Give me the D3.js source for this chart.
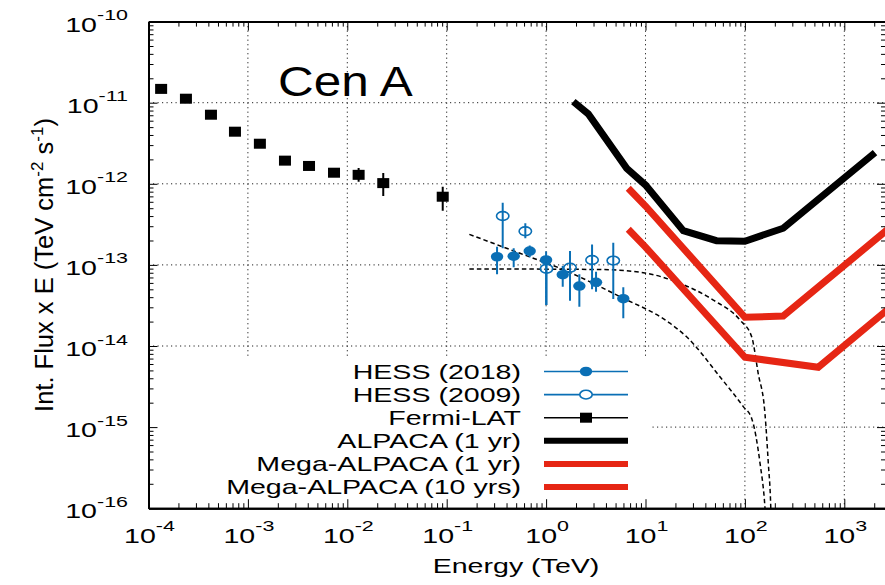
<!DOCTYPE html>
<html>
<head>
<meta charset="utf-8">
<script src="https://cdn.jsdelivr.net/npm/d3@7"></script>
<style>
body { margin: 0; background: #fff; }
text { font-family: "Liberation Sans", Arial, Helvetica, sans-serif; fill: #000; }
</style>
</head>
<body>
<div id="chart"></div>
<script>
// values (energy in TeV, flux in TeV cm^-2 s^-1)
var fermiE  = [1.34e-4, 2.38e-4, 4.25e-4, 7.41e-4, 1.32e-3, 2.36e-3, 4.12e-3, 7.35e-3, 1.30e-2, 2.30e-2, 9.12e-2];
var fermiF  = [1.48e-11, 1.12e-11, 7.11e-12, 4.39e-12, 3.12e-12, 1.93e-12, 1.66e-12, 1.37e-12, 1.29e-12, 1.02e-12, 6.93e-13];
var fermiLo = [1.48e-11, 1.12e-11, 7.11e-12, 4.39e-12, 3.12e-12, 1.93e-12, 1.58e-12, 1.30e-12, 1.06e-12, 7.08e-13, 4.66e-13];
var fermiHi = [1.48e-11, 1.12e-11, 7.11e-12, 4.39e-12, 3.12e-12, 1.93e-12, 1.74e-12, 1.45e-12, 1.57e-12, 1.36e-12, 9.20e-13];

var hess18E  = [0.321, 0.472, 0.684, 1.0, 1.47, 2.16, 3.18, 5.98];
var hess18F  = [1.26e-13, 1.28e-13, 1.48e-13, 1.15e-13, 7.57e-14, 5.49e-14, 6.10e-14, 3.83e-14];
var hess18Lo = [7.66e-14, 9.33e-14, 1.24e-13, 3.20e-14, 5.38e-14, 3.05e-14, 4.67e-14, 2.20e-14];
var hess18Hi = [1.68e-13, 1.60e-13, 1.73e-13, 1.46e-13, 9.68e-14, 7.66e-14, 8.24e-14, 5.30e-14];

var hess09E  = [0.366, 0.618, 1.01, 1.74, 2.90, 4.74];
var hess09F  = [4.01e-13, 2.60e-13, 8.97e-14, 9.23e-14, 1.15e-13, 1.13e-13];
var hess09Lo = [1.60e-13, 2.13e-13, 3.20e-14, 3.62e-14, 5.00e-14, 3.80e-14];
var hess09Hi = [5.85e-13, 3.26e-13, 1.12e-13, 1.48e-13, 1.79e-13, 1.88e-13];

var alpacaE = [1.88, 2.66, 6.47, 10, 24.0, 51.8, 100, 243, 2037];
var alpacaF = [1.03e-11, 7.26e-12, 1.55e-12, 9.66e-13, 2.64e-13, 1.99e-13, 1.96e-13, 2.83e-13, 2.42e-12];

var mega1E = [6.71, 10, 100, 243, 3000];
var mega1F = [8.81e-13, 5.32e-13, 2.26e-14, 2.34e-14, 3.01e-13];

var mega10E = [6.71, 10, 100, 547, 3000];
var mega10F = [2.75e-13, 1.66e-13, 7.26e-15, 5.46e-15, 3.10e-14];

// dashed model curves
var model1E = [0.169, 0.546, 1.38, 5.53, 17.6, 25.9, 56.0, 96.3, 117, 142, 159, 165];
var model1F = [2.38e-13, 1.39e-13, 9.08e-14, 4.06e-14, 1.91e-14, 1.30e-14, 4.18e-15, 1.79e-15, 1.28e-15, 3.58e-16, 1.04e-16, 5e-17];
var model2E = [0.169, 0.344, 3.48, 9.51, 22.2, 48.1, 89.3, 117, 136, 159, 172, 182, 185];
var model2F = [8.89e-14, 8.89e-14, 8.77e-14, 8.01e-14, 5.93e-14, 3.69e-14, 2.09e-14, 1.30e-14, 4.61e-15, 1.49e-15, 3.58e-16, 1.04e-16, 5e-17];

var xTickExp = [-4, -3, -2, -1, 0, 1, 2, 3];
var yTickExp = [-16, -15, -14, -13, -12, -11, -10];

var legendLabels = ["HESS (2018)", "HESS (2009)", "Fermi-LAT", "ALPACA (1 yr)", "Mega-ALPACA (1 yr)", "Mega-ALPACA (10 yrs)"];

var blue = "#0a6fb5", red = "#e62614";

// layout
var width = 885, height = 585;
var plot = { left: 148.5, right: 886, top: 21.6, bottom: 508.2 };
var decadePx = 99.4;
var xMax = Math.pow(10, -4 + (plot.right - plot.left) / decadePx);
var stretch = 1.43; // text in the picture is wider than tall

var x = d3.scaleLog().domain([1e-4, xMax]).range([plot.left, plot.right]);
var y = d3.scaleLog().domain([1e-16, 1e-10]).range([plot.bottom, plot.top]);

var xMajor = xTickExp.map(function(e) { return Math.pow(10, e); });
var yMajor = yTickExp.map(function(e) { return Math.pow(10, e); });
var xMinor = [], yMinor = [];
xTickExp.forEach(function(e) {
    for (var m = 2; m <= 9; m++) {
        var v = m * Math.pow(10, e);
        if (v < xMax) xMinor.push(v);
    }
});
yTickExp.slice(0, -1).forEach(function(e) {
    for (var m = 2; m <= 9; m++) yMinor.push(m * Math.pow(10, e));
});

var svg = d3.select("#chart").append("svg")
    .attr("width", width)
    .attr("height", height);

svg.append("rect").attr("width", width).attr("height", height).attr("fill", "#fff");

svg.append("clipPath").attr("id", "clip")
    .append("rect")
    .attr("x", plot.left).attr("y", plot.top)
    .attr("width", plot.right - plot.left).attr("height", plot.bottom - plot.top);

// grid
var grid = svg.append("g").attr("stroke", "#222").attr("stroke-width", 1).attr("stroke-dasharray", "1.2,3.3");
grid.selectAll(".vg").data(xMajor.slice(1)).enter().append("line")
    .attr("x1", function(d) { return x(d); }).attr("x2", function(d) { return x(d); })
    .attr("y1", plot.top).attr("y2", plot.bottom);
grid.selectAll(".hg").data(yMajor.slice(1, -1)).enter().append("line")
    .attr("y1", function(d) { return y(d); }).attr("y2", function(d) { return y(d); })
    .attr("x1", plot.left).attr("x2", plot.right);

// opaque key box hides the grid under the legend
var keyBox = { x0: plot.left, x1: 652, y0: 358 };
svg.append("rect")
    .attr("x", keyBox.x0).attr("y", keyBox.y0)
    .attr("width", keyBox.x1 - keyBox.x0).attr("height", plot.bottom - keyBox.y0)
    .attr("fill", "#fff");

var data = svg.append("g").attr("clip-path", "url(#clip)");

function pairs(es, fs) {
    return es.map(function(e, i) { return [e, fs[i]]; });
}

var straight = d3.line().x(function(d) { return x(d[0]); }).y(function(d) { return y(d[1]); });
var smooth = d3.line().curve(d3.curveMonotoneX).x(function(d) { return x(d[0]); }).y(function(d) { return y(d[1]); });

// model curves
[[model1E, model1F], [model2E, model2F]].forEach(function(m) {
    data.append("path")
        .attr("d", smooth(pairs(m[0], m[1])))
        .attr("fill", "none").attr("stroke", "#000")
        .attr("stroke-width", 1.5).attr("stroke-dasharray", "4.5,3");
});

// sensitivity curves
data.append("path").attr("d", straight(pairs(alpacaE, alpacaF)))
    .attr("fill", "none").attr("stroke", "#000").attr("stroke-width", 7).attr("stroke-linejoin", "miter");
data.append("path").attr("d", straight(pairs(mega1E, mega1F)))
    .attr("fill", "none").attr("stroke", red).attr("stroke-width", 7);
data.append("path").attr("d", straight(pairs(mega10E, mega10F)))
    .attr("fill", "none").attr("stroke", red).attr("stroke-width", 7);

// error bars
function errBars(es, los, his, color) {
    data.append("g").selectAll("line").data(es).enter().append("line")
        .attr("x1", function(d) { return x(d); }).attr("x2", function(d) { return x(d); })
        .attr("y1", function(d, i) { return y(his[i]); })
        .attr("y2", function(d, i) { return y(los[i]); })
        .attr("stroke", color).attr("stroke-width", 2);
}
errBars(fermiE, fermiLo, fermiHi, "#000");
errBars(hess09E, hess09Lo, hess09Hi, blue);
errBars(hess18E, hess18Lo, hess18Hi, blue);

// markers
data.append("g").selectAll("rect").data(pairs(fermiE, fermiF)).enter().append("rect")
    .attr("x", function(d) { return x(d[0]) - 6; })
    .attr("y", function(d) { return y(d[1]) - 5; })
    .attr("width", 12).attr("height", 10).attr("fill", "#000");

data.append("g").selectAll("ellipse").data(pairs(hess09E, hess09F)).enter().append("ellipse")
    .attr("cx", function(d) { return x(d[0]); })
    .attr("cy", function(d) { return y(d[1]); })
    .attr("rx", 6.2).attr("ry", 4.4)
    .attr("fill", "none").attr("stroke", blue).attr("stroke-width", 1.6);

data.append("g").selectAll("ellipse").data(pairs(hess18E, hess18F)).enter().append("ellipse")
    .attr("cx", function(d) { return x(d[0]); })
    .attr("cy", function(d) { return y(d[1]); })
    .attr("rx", 6.2).attr("ry", 4.8)
    .attr("fill", blue);

// axes: all four sides with inward ticks
function styleAxis(g) {
    g.select(".domain").attr("stroke-width", 2);
    g.selectAll(".tick line").attr("stroke-width", 1);
}
svg.append("g").attr("transform", "translate(0," + plot.bottom + ")")
    .call(d3.axisBottom(x).tickValues(xMajor).tickSize(-9).tickSizeOuter(0).tickFormat(""))
    .call(styleAxis);
svg.append("g").attr("transform", "translate(0," + plot.bottom + ")")
    .call(d3.axisBottom(x).tickValues(xMinor).tickSize(-5).tickSizeOuter(0).tickFormat(""))
    .call(styleAxis);
svg.append("g").attr("transform", "translate(0," + plot.top + ")")
    .call(d3.axisTop(x).tickValues(xMajor).tickSize(-9).tickSizeOuter(0).tickFormat(""))
    .call(styleAxis);
svg.append("g").attr("transform", "translate(0," + plot.top + ")")
    .call(d3.axisTop(x).tickValues(xMinor).tickSize(-5).tickSizeOuter(0).tickFormat(""))
    .call(styleAxis);
svg.append("g").attr("transform", "translate(" + plot.left + ",0)")
    .call(d3.axisLeft(y).tickValues(yMajor).tickSize(-9).tickSizeOuter(0).tickFormat(""))
    .call(styleAxis);
svg.append("g").attr("transform", "translate(" + plot.left + ",0)")
    .call(d3.axisLeft(y).tickValues(yMinor).tickSize(-5).tickSizeOuter(0).tickFormat(""))
    .call(styleAxis);
svg.append("g").attr("transform", "translate(" + plot.right + ",0)")
    .call(d3.axisRight(y).tickValues(yMajor).tickSize(-9).tickSizeOuter(0).tickFormat(""))
    .call(styleAxis);
svg.append("g").attr("transform", "translate(" + plot.right + ",0)")
    .call(d3.axisRight(y).tickValues(yMinor).tickSize(-5).tickSizeOuter(0).tickFormat(""))
    .call(styleAxis);

// tick labels 10^n
function powerLabel(g, px, py, exp, anchor) {
    var t = g.append("text")
        .attr("transform", "translate(" + px + "," + py + ") scale(" + stretch + ",1)")
        .style("font-size", "20px")
        .style("text-anchor", anchor);
    t.append("tspan").text("10");
    t.append("tspan").attr("dy", -11.5).style("font-size", "15px").text(exp);
}
var labels = svg.append("g");
xTickExp.forEach(function(e) { powerLabel(labels, x(Math.pow(10, e)) + 1, plot.bottom + 34.5, e, "middle"); });
yTickExp.forEach(function(e) { powerLabel(labels, 128, y(Math.pow(10, e)) + 10, e, "end"); });

// axis titles
svg.append("text")
    .attr("transform", "translate(" + 516 + "," + 573 + ") scale(" + stretch + ",1)")
    .style("font-size", "20px").style("text-anchor", "middle")
    .text("Energy (TeV)");

var yTitle = svg.append("text")
    .attr("transform", "translate(53,265) rotate(-90)")
    .style("font-size", "25.5px").style("text-anchor", "middle");
yTitle.append("tspan").text("Int. Flux x E (TeV cm");
yTitle.append("tspan").attr("dy", -10).style("font-size", "17px").text("-2");
yTitle.append("tspan").attr("dy", 10).text(" s");
yTitle.append("tspan").attr("dy", -10).style("font-size", "17px").text("-1");
yTitle.append("tspan").attr("dy", 10).text(")");

// source name
svg.append("text")
    .attr("transform", "translate(278,96) scale(1.15,1)")
    .style("font-size", "43px")
    .text("Cen A");

// legend
var LXT = 521, LX0 = 544, LX1 = 628, LXM = 586, LY0 = 371.5, LDY = 23.1;
var legend = svg.append("g");
legendLabels.forEach(function(label, i) {
    var ly = LY0 + i * LDY;
    legend.append("text")
        .attr("transform", "translate(" + LXT + "," + (ly + 7) + ") scale(" + stretch + ",1)")
        .style("font-size", "20px").style("text-anchor", "end")
        .text(label);
    var color = (i < 2) ? blue : (i < 4 ? "#000" : red);
    var w = (i < 3) ? 1.6 : 6;
    legend.append("line")
        .attr("x1", LX0).attr("x2", LX1).attr("y1", ly).attr("y2", ly)
        .attr("stroke", color).attr("stroke-width", w);
    if (i === 0) {
        legend.append("ellipse").attr("cx", LXM).attr("cy", ly).attr("rx", 6.2).attr("ry", 4.8).attr("fill", blue);
    } else if (i === 1) {
        legend.append("ellipse").attr("cx", LXM).attr("cy", ly).attr("rx", 6.2).attr("ry", 4.4)
            .attr("fill", "#fff").attr("stroke", blue).attr("stroke-width", 1.6);
    } else if (i === 2) {
        legend.append("rect").attr("x", LXM - 6).attr("y", ly - 5).attr("width", 12).attr("height", 10).attr("fill", "#000");
    }
});
</script>
</body>
</html>
